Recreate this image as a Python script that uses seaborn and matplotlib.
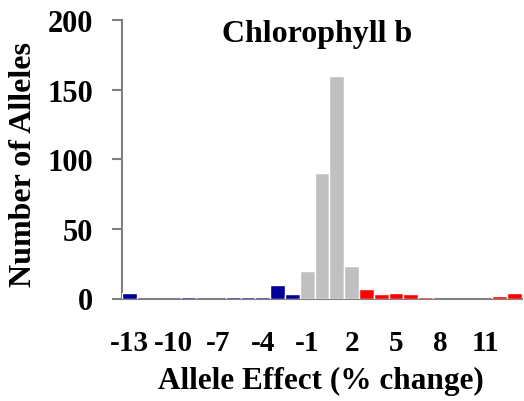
import matplotlib
matplotlib.use("Agg")
import matplotlib.pyplot as plt
import seaborn as sns
import pandas as pd
from matplotlib.ticker import FixedLocator

effects = list(range(-13, 14))
counts = [4, 0, 0, 0, 1, 0, 0, 1, 1, 1, 10, 3,
          20, 90, 160, 23,
          7, 3, 4, 3, 1, 0, 0, 0, 0, 2, 4]
groups = ["neg"] * 12 + ["mid"] * 4 + ["pos"] * 11
palette = {"neg": "#000099", "mid": "#C0C0C0", "pos": "#FF0000"}
tick_labels = ["-13", "-10", "-7", "-4", "-1", "2", "5", "8", "11"]

df = pd.DataFrame({"effect": [str(e) for e in effects], "count": counts, "group": groups})

sns.set_style("white")
plt.rcParams["font.family"] = ["Liberation Serif", "DejaVu Serif"]
plt.rcParams["font.weight"] = "bold"
plt.rcParams["text.color"] = "black"
plt.rcParams["axes.labelcolor"] = "black"

fig = plt.figure(figsize=(5.24, 4.02), dpi=100)
ax = fig.add_axes([122/524, 1 - 299.5/402, 400/524, 278.5/402])

sns.barplot(data=df, x="effect", y="count", hue="group", palette=palette,
            dodge=False, width=1.0, edgecolor="white", linewidth=1.0,
            saturation=1, legend=False, ax=ax, order=[str(e) for e in effects])

# hide edges of empty bars so they do not lighten the axis line
for p in ax.patches:
    if p.get_height() == 0:
        p.set_linewidth(0)

ax.set_xlim(-0.5, 26.5)
ax.set_ylim(0, 200)
ax.set_yticks([0, 50, 100, 150, 200])
ax.set_yticklabels(["0", "50", "100", "150", "200"])

label_pos = [effects.index(int(t)) for t in tick_labels]
ax.set_xticks(label_pos)
ax.set_xticklabels(tick_labels)
ax.xaxis.set_minor_locator(FixedLocator([i - 0.5 for i in range(28)]))
ax.tick_params(axis="x", which="major", length=0, pad=22, labelsize=21, labelcolor="black")
ax.tick_params(axis="x", which="minor", length=6, width=1.5, color="#808080", direction="out")
ax.tick_params(axis="y", which="major", length=7, width=1.5, color="#808080", direction="out",
               pad=14, labelsize=22, left=True, labelcolor="black")
for lab in ax.get_xticklabels() + ax.get_yticklabels():
    lab.set_fontweight("bold")

for s in ["top", "right"]:
    ax.spines[s].set_visible(False)
for s in ["left", "bottom"]:
    ax.spines[s].set_color("#808080")
    ax.spines[s].set_linewidth(1.5)
    ax.spines[s].set_zorder(0.5)

ax.set_xlabel("Allele Effect (% change)", fontsize=22.5, fontweight="bold", va="top", color="black")
ax.xaxis.set_label_coords(0.496, -0.242)
ax.set_ylabel("Number of Alleles", fontsize=23, fontweight="bold", va="center", color="black")
ax.yaxis.set_label_coords(-0.245, 0.483)
ax.text(0.489, 0.9246, "Chlorophyll b", transform=ax.transAxes, ha="center", va="baseline",
        fontsize=23, fontweight="bold", color="black")

fig.savefig("out.png", dpi=100, facecolor="white")
